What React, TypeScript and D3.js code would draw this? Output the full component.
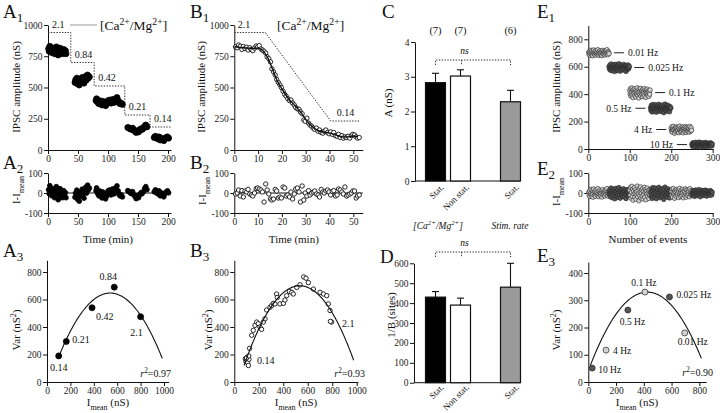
import React, { useEffect, useRef } from "react";
import * as d3 from "d3";

const FONT = "'Liberation Serif', 'Times New Roman', Times, serif";

// ---------- A: amplitude at five [Ca2+/Mg2+] ratios (stationary) ----------
const a1Ratio = ["2.1", "0.84", "0.42", "0.21", "0.14"];
const a1Ca21 = [[1, 810], [2, 790], [3, 830], [5, 800], [6, 780], [8, 815], [9, 795], [11, 770], [12, 805], [14, 825], [15, 785], [17, 760], [18, 800], [20, 815], [21, 775], [23, 790], [24, 770], [26, 805], [27, 780], [29, 795], [30, 770]];
const a1Ca084 = [[45, 540], [46, 560], [48, 575], [49, 530], [51, 550], [52, 520], [54, 565], [55, 545], [57, 580], [58, 555], [60, 535], [61, 570], [63, 590], [64, 560], [66, 600], [67, 575], [69, 585]];
const a1Ca042 = [[80, 395], [81, 410], [83, 380], [85, 370], [86, 395], [88, 375], [90, 360], [91, 390], [93, 365], [95, 380], [96, 355], [98, 370], [100, 395], [101, 385], [103, 400], [105, 375], [106, 390], [108, 405], [110, 380], [112, 395], [113, 410], [115, 420], [117, 395], [118, 380], [120, 370], [122, 375], [124, 365]];
const a1Ca021 = [[133, 180], [135, 175], [137, 170], [139, 165], [141, 175], [143, 160], [145, 150], [147, 140], [149, 155], [151, 145], [153, 160], [155, 170], [157, 165], [159, 175], [161, 190], [163, 200], [165, 185]];
const a1Ca014 = [[177, 100], [179, 110], [181, 95], [183, 90], [185, 105], [187, 80], [189, 95], [191, 85], [193, 75], [195, 90], [197, 100], [199, 105], [201, 95]];
const a1Clusters = [a1Ca21, a1Ca084, a1Ca042, a1Ca021, a1Ca014];
// perfusion protocol (dotted trace)
const a1StepFrom = [0, 38, 77, 128, 170];
const a1StepTo = [38, 77, 128, 170, 206];
const a1StepLevel = [940, 700, 512, 280, 184];

const a3Imean = [100, 165, 385, 575, 800];
const a3Var = [190, 295, 540, 690, 475];
const a3Label = ["0.14", "0.21", "0.42", "0.84", "2.1"];
const a3Fit = { peakI: 540, peakVar: 647, k: 0.0024, from: 95, to: 985, r2: "0.97" };

// ---------- B: non-stationary wash ----------
const b1Time = [0.5, 1.2, 1.8, 2.5, 3.2, 3.8, 4.5, 5.2, 5.8, 6.5, 7.2, 7.8, 8.5, 9.2, 9.8, 10.5, 11.2, 11.8, 12.5, 13.2, 13.8, 14.5, 15.2, 15.8, 16.5, 17.2, 17.8, 18.5, 19.2, 19.8, 20.5, 21.2, 21.8, 22.5, 23.2, 23.8, 24.5, 25.2, 25.8, 26.5, 27.2, 27.8, 28.5, 29.2, 29.8, 30.5, 31.2, 31.8, 32.5, 33.2, 33.8, 34.5, 35.2, 35.8, 36.5, 37.2, 37.8, 38.5, 39.2, 39.8, 40.5, 41.2, 41.8, 42.5, 43.2, 43.8, 44.5, 45.2, 45.8, 46.5, 47.2, 47.8, 48.5, 49.2, 49.8, 50.5, 51.2, 51.8, 52.5];
const b1Amp = [825, 818, 840, 830, 805, 828, 812, 822, 800, 818, 803, 795, 815, 832, 825, 835, 808, 800, 790, 775, 745, 730, 705, 650, 625, 600, 565, 540, 520, 500, 470, 445, 430, 410, 395, 400, 375, 360, 340, 330, 325, 305, 290, 240, 230, 255, 215, 200, 190, 175, 165, 175, 150, 160, 140, 135, 150, 160, 140, 130, 145, 125, 140, 115, 110, 125, 100, 115, 95, 105, 100, 110, 95, 115, 125, 120, 105, 95, 100];
const b1TrendTime = [0, 4, 8, 10, 12, 14, 16, 18, 20, 22, 24, 26, 28, 30, 32, 34, 36, 38, 40, 42, 44, 46, 48, 50, 52];
const b1TrendAmp = [825, 818, 812, 815, 795, 740, 650, 555, 490, 430, 385, 345, 300, 245, 200, 170, 150, 142, 135, 125, 112, 105, 105, 112, 105];
const b1StepTime = [0, 13, 40.5, 53];
const b1StepLevel = [940, 940, 232, 232];
const b2Resid = [-5, 0, 15, -15, 12, -20, 10, 5, 18, -5, -10, -15, 0, 22, 25, 20, 15, 5, -45, 45, 15, -5, -30, -35, -30, 18, 10, -25, -20, -25, 30, 25, -15, -10, -20, 5, -30, -5, 20, 25, 5, -45, 35, -35, 0, -15, 12, -10, 0, 5, 10, -5, -10, -20, 18, 5, 0, 10, 15, 5, -10, 8, 12, -15, -10, 20, 15, 5, -5, 30, -15, -10, -5, 0, 10, 10, -25, -15, -10];
const b3Imean = [90, 95, 100, 105, 110, 115, 120, 125, 100, 118, 142, 155, 169, 183, 196, 210, 223, 237, 251, 264, 292, 305, 319, 332, 346, 351, 373, 401, 414, 428, 450, 469, 482, 510, 537, 567, 586, 605, 646, 700, 728, 755, 768, 782, 795, 785];
const b3Var = [170, 150, 160, 180, 140, 120, 165, 245, 175, 190, 340, 376, 412, 436, 424, 400, 383, 436, 460, 524, 544, 556, 572, 568, 640, 615, 568, 572, 596, 628, 659, 652, 640, 688, 707, 764, 755, 723, 676, 652, 640, 628, 568, 520, 436, 441];
const b3Fit = { peakI: 535, peakVar: 700, k: 0.0028, from: 80, to: 975, r2: "0.93" };

// ---------- C / D: summary bars ----------
const cdKeys = ["ca-stat", "ca-nonstat", "gap", "rate-stat"];
const cdBarKey = ["ca-stat", "ca-nonstat", "rate-stat"];
const cdLabel = ["Stat.", "Non stat.", "Stat."];
const cdN = ["(7)", "(7)", "(6)"];
const cMean = [2.83, 3.02, 2.28];
const cSem = [0.27, 0.18, 0.33];
const dMean = [430, 390, 480];
const dSem = [28, 35, 120];
const cdFill = ["#000", "#fff", "#9a9a9a"];

// ---------- E: stimulation rate ----------
const e1Rate = ["0.01 Hz", "0.025 Hz", "0.1 Hz", "0.5 Hz", "4 Hz", "10 Hz"];
const e1FirstEvent = [1, 50, 100, 150, 200, 250];
const e1Amp001 = [705, 690, 712, 684, 698, 720, 703, 688, 715, 695, 680, 708, 722, 700, 690, 711, 685, 702, 718, 696, 706, 689, 724, 700, 683, 710, 694, 716, 702, 688, 699, 713, 681, 705, 719, 692, 707, 697, 712, 686, 701, 716, 693, 708, 724, 699, 687, 710, 703, 695];
const e1Amp0025 = [600, 585, 612, 575, 595, 620, 588, 603, 570, 608, 593, 580, 615, 597, 565, 605, 590, 618, 578, 600, 586, 610, 572, 596, 622, 583, 604, 568, 598, 612, 590, 577, 607, 594, 581, 616, 599, 574, 602, 589, 611, 566, 595, 606, 580, 598, 613, 585, 592, 603];
const e1Amp01 = [425, 400, 440, 385, 415, 445, 395, 430, 375, 420, 405, 438, 390, 412, 428, 380, 418, 402, 446, 392, 423, 408, 372, 435, 398, 416, 442, 386, 410, 426, 396, 433, 381, 419, 404, 440, 389, 414, 429, 377, 421, 407, 436, 393, 411, 425, 384, 417, 400, 430];
const e1Amp05 = [300, 280, 318, 290, 270, 308, 325, 285, 296, 312, 275, 302, 322, 288, 268, 306, 295, 317, 282, 298, 326, 287, 310, 273, 300, 315, 291, 278, 305, 320, 284, 297, 265, 311, 293, 327, 281, 303, 289, 314, 276, 299, 319, 286, 307, 292, 272, 309, 296, 301];
const e1Amp4 = [150, 130, 162, 122, 145, 165, 135, 142, 115, 155, 147, 126, 160, 137, 152, 131, 141, 158, 119, 148, 166, 133, 144, 124, 156, 139, 128, 161, 143, 118, 153, 136, 149, 127, 163, 140, 121, 157, 134, 146, 129, 159, 138, 150, 123, 164, 142, 132, 154, 136];
const e1Amp10 = [35, 20, 45, 25, 32, 42, 15, 38, 27, 48, 30, 18, 44, 33, 22, 40, 28, 50, 24, 36, 13, 41, 31, 26, 46, 34, 19, 39, 29, 43, 21, 37, 47, 23, 32, 16, 44, 35, 28, 41, 25, 38, 30, 20, 45, 33, 27, 40, 22, 36];
const e1Amps = [e1Amp001, e1Amp0025, e1Amp01, e1Amp05, e1Amp4, e1Amp10];
const e1Fill = ["#d2d2d2", "#555", "#d2d2d2", "#555", "#d2d2d2", "#555"];

const e3Rate = ["10 Hz", "4 Hz", "0.5 Hz", "0.1 Hz", "0.025 Hz", "0.01 Hz"];
const e3Imean = [28, 128, 285, 408, 585, 695];
const e3Var = [51, 117, 264, 330, 312, 180];
const e3Fill = ["#555", "#d2d2d2", "#555", "#d2d2d2", "#555", "#d2d2d2"];
const e3Fit = { peakI: 425, peakVar: 330, k: 0.0016, from: 15, to: 815, r2: "0.90" };

type Part = { t: string; k?: "sub" | "sup"; it?: boolean };
const caMg: Part[] = [{ t: "[Ca" }, { t: "2+", k: "sup" }, { t: "/Mg" }, { t: "2+", k: "sup" }, { t: "]" }];
const iMeanNs: Part[] = [{ t: "I" }, { t: "mean", k: "sub" }, { t: " (nS)" }];
const iMinus: Part[] = [{ t: "I-I" }, { t: "mean", k: "sub" }];
const varNs: Part[] = [{ t: "Var (nS" }, { t: "2", k: "sup" }, { t: ")" }];
const r2 = (v: string): Part[] => [{ t: "r", it: true }, { t: "2", k: "sup" }, { t: "=" + v }];

function ext(s: any, lo: number, hi: number) {
  return s.copy().domain([lo, hi]).range([s(lo), s(hi)]);
}

function axis(svg: any, side: string, scale: any, at: number, ticks: number[]) {
  const a = (side === "left" ? d3.axisLeft(scale) : d3.axisBottom(scale))
    .tickValues(ticks)
    .tickSizeInner(4)
    .tickSizeOuter(0)
    .tickPadding(1.5)
    .tickFormat((d: any) => String(d));
  const g = svg
    .append("g")
    .attr("transform", side === "left" ? `translate(${at},0)` : `translate(0,${at})`)
    .call(a);
  g.attr("font-family", FONT).attr("font-size", 9.5);
  g.selectAll("path,line").attr("stroke", "#111");
  g.selectAll("text").attr("fill", "#222");
  return g;
}

function text(svg: any, x: number, y: number, parts: Part[] | string, o: any = {}) {
  const size = o.size ?? 10;
  const t = svg
    .append("text")
    .attr("transform", o.rotate ? `translate(${x},${y}) rotate(${o.rotate})` : `translate(${x},${y})`)
    .attr("font-family", FONT)
    .attr("font-size", size)
    .attr("text-anchor", o.anchor ?? "start")
    .attr("fill", "#111");
  if (o.italic) t.attr("font-style", "italic");
  const list: Part[] = typeof parts === "string" ? [{ t: parts }] : parts;
  let shift = 0;
  list.forEach((p) => {
    const target = p.k === "sub" ? size * 0.32 : p.k === "sup" ? -size * 0.4 : 0;
    const ts = t.append("tspan").attr("dy", target - shift).text(p.t);
    if (p.k) ts.attr("font-size", size * 0.72);
    if (p.it) ts.attr("font-style", "italic");
    shift = target;
  });
  return t;
}

function dot(svg: any, x: number, y: number, r: number, fill: string, stroke = "#000", sw = 0.8) {
  svg.append("circle").attr("cx", x).attr("cy", y).attr("r", r).attr("fill", fill).attr("stroke", stroke).attr("stroke-width", sw);
}

function dotted(svg: any, pts: [number, number][]) {
  svg.append("path").attr("d", d3.line()(pts)).attr("fill", "none").attr("stroke", "#333").attr("stroke-width", 1).attr("stroke-dasharray", "1.4,1.4");
}

function fitCurve(svg: any, x: any, y: any, f: any) {
  const pts = d3.range(f.from, f.to + 1, 5).map((i) => [x(i), y(f.peakVar - f.k * (i - f.peakI) ** 2)] as [number, number]);
  svg.append("path").attr("d", d3.line()(pts)).attr("fill", "none").attr("stroke", "#111").attr("stroke-width", 1.1);
}

function panel(svg: any, x: number, y: number, letter: string, sub?: string) {
  const t = svg.append("text").attr("x", x).attr("y", y).attr("font-family", FONT).attr("font-size", 19).attr("fill", "#111");
  t.append("tspan").text(letter);
  if (sub) t.append("tspan").attr("font-size", 13).attr("dy", 4).text(sub);
}

function drawA(svg: any) {
  const x = d3.scaleLinear().domain([0, 200]).range([48, 168]);
  const y = d3.scaleLinear().domain([0, 1000]).range([150, 25]);
  axis(svg, "left", y, 48, [0, 250, 500, 750, 1000]);
  axis(svg, "bottom", ext(x, 0, 205), 150, [0, 50, 100, 150, 200]);
  const steps: [number, number][] = [];
  a1StepLevel.forEach((v, i) => steps.push([x(a1StepFrom[i]), y(v)], [x(a1StepTo[i]), y(v)]));
  dotted(svg, steps);
  a1Ratio.forEach((r, i) => text(svg, x(a1StepFrom[i]) + 4, y(a1StepLevel[i]) - 5, r, { size: 10 }));
  svg.append("line").attr("x1", 70).attr("x2", 97).attr("y1", 25).attr("y2", 25).attr("stroke", "#bbb").attr("stroke-width", 1.5);
  text(svg, 100, 30, caMg, { size: 13.5 });
  a1Clusters.forEach((c) => c.forEach(([t, v]) => dot(svg, x(t), y(v), 3, "#000")));
  text(svg, 20, 87, "IPSC amplitude (nS)", { size: 11, rotate: -90, anchor: "middle" });

  const y2 = d3.scaleLinear().domain([-100, 100]).range([213, 173]);
  axis(svg, "left", y2, 48, [-100, 0, 100]);
  axis(svg, "bottom", ext(x, 0, 205), 213, [0, 50, 100, 150, 200]);
  svg.append("line").attr("x1", x(0)).attr("x2", x(205)).attr("y1", y2(0)).attr("y2", y2(0)).attr("stroke", "#111");
  a1Clusters.forEach((c) => {
    const m = d3.mean(c, (d) => d[1]) as number;
    c.forEach(([t, v]) => dot(svg, x(t), y2(v - m), 2.4, "#000"));
  });
  text(svg, 20, 190, iMinus, { size: 11, rotate: -90, anchor: "middle" });
  text(svg, x(100), 243, "Time (min)", { size: 11, anchor: "middle" });

  const xi = d3.scaleLinear().domain([0, 1000]).range([47, 164]);
  const y3 = d3.scaleLinear().domain([0, 800]).range([382, 272]);
  axis(svg, "left", ext(y3, 0, 885), 47, [0, 200, 400, 600, 800]);
  axis(svg, "bottom", ext(xi, 0, 1040), 382, [0, 200, 400, 600, 800, 1000]);
  fitCurve(svg, xi, y3, a3Fit);
  a3Imean.forEach((m, i) => dot(svg, xi(m), y3(a3Var[i]), 3, "#000"));
  const off = [[0, 15, "middle"], [6, 2, "start"], [4, 12, "start"], [-6, -7, "middle"], [-4, 19, "middle"]];
  a3Label.forEach((l, i) => text(svg, xi(a3Imean[i]) + (off[i][0] as number), y3(a3Var[i]) + (off[i][1] as number), l, { size: 10, anchor: off[i][2] }));
  text(svg, 171, 377, r2(a3Fit.r2), { size: 10, anchor: "end" });
  text(svg, 20, 330, varNs, { size: 11, rotate: -90, anchor: "middle" });
  text(svg, 108, 406, iMeanNs, { size: 11, anchor: "middle" });
}

function drawB(svg: any) {
  const x = d3.scaleLinear().domain([0, 50]).range([234.3, 353.3]);
  const y = d3.scaleLinear().domain([0, 1000]).range([150, 25]);
  axis(svg, "left", y, 234.3, [0, 250, 500, 750, 1000]);
  axis(svg, "bottom", ext(x, 0, 54), 150, [0, 10, 20, 30, 40, 50]);
  dotted(svg, b1StepTime.map((t, i) => [x(t), y(b1StepLevel[i])] as [number, number]));
  text(svg, x(1.5), y(b1StepLevel[0]) - 5, "2.1", { size: 10 });
  text(svg, x(43), y(b1StepLevel[3]) - 5, "0.14", { size: 10 });
  text(svg, 277, 30, caMg, { size: 13.5 });
  b1Time.forEach((t, i) => dot(svg, x(t), y(b1Amp[i]), 2.2, "#fff", "#111", 0.9));
  const trend = d3.line().curve(d3.curveMonotoneX)(b1TrendTime.map((t, i) => [x(t), y(b1TrendAmp[i])] as [number, number]));
  svg.append("path").attr("d", trend).attr("fill", "none").attr("stroke", "#111").attr("stroke-width", 1.4);
  text(svg, 205, 87, "IPSC amplitude (nS)", { size: 11, rotate: -90, anchor: "middle" });

  const y2 = d3.scaleLinear().domain([-100, 100]).range([213, 173]);
  axis(svg, "left", y2, 234.3, [-100, 0, 100]);
  axis(svg, "bottom", ext(x, 0, 54), 213, [0, 10, 20, 30, 40, 50]);
  svg.append("line").attr("x1", x(0)).attr("x2", x(54)).attr("y1", y2(0)).attr("y2", y2(0)).attr("stroke", "#111");
  b1Time.forEach((t, i) => dot(svg, x(t), y2(b2Resid[i] ?? 0), 2.2, "#fff", "#111", 0.9));
  text(svg, 206, 191, iMinus, { size: 11, rotate: -90, anchor: "middle" });
  text(svg, x(25), 243, "Time (min)", { size: 11, anchor: "middle" });

  const xi = d3.scaleLinear().domain([0, 1000]).range([234.3, 356.7]);
  const y3 = d3.scaleLinear().domain([0, 800]).range([382, 272]);
  axis(svg, "left", ext(y3, 0, 885), 234.3, [0, 200, 400, 600, 800]);
  axis(svg, "bottom", ext(xi, 0, 1010), 382, [0, 200, 400, 600, 800, 1000]);
  b3Imean.forEach((m, i) => dot(svg, xi(m), y3(b3Var[i]), 2.2, "#fff", "#111", 0.9));
  fitCurve(svg, xi, y3, b3Fit);
  text(svg, 257, 364, "0.14", { size: 10 });
  text(svg, 342, 327, "2.1", { size: 10 });
  text(svg, 365, 377, r2(b3Fit.r2), { size: 10, anchor: "end" });
  text(svg, 212, 330, varNs, { size: 11, rotate: -90, anchor: "middle" });
  text(svg, 296, 406, iMeanNs, { size: 11, anchor: "middle" });
}

function bars(svg: any, y: any, axisX: number, ticks: number[], mean: number[], sem: number[], labelY: number, bracketY: number) {
  const band = d3.scaleBand().domain(cdKeys).range([423, 523]).paddingInner(0.2).paddingOuter(0.1);
  axis(svg, "left", y, axisX, ticks);
  const y0 = y(0);
  svg.append("line").attr("x1", axisX).attr("x2", 520).attr("y1", y0).attr("y2", y0).attr("stroke", "#111");
  cdBarKey.forEach((k, i) => {
    const bx = band(k) as number;
    const cx = bx + band.bandwidth() / 2;
    svg.append("line").attr("x1", cx).attr("x2", cx).attr("y1", y(mean[i])).attr("y2", y(mean[i] + sem[i])).attr("stroke", "#111").attr("stroke-width", 1.1);
    svg.append("line").attr("x1", cx - 3.5).attr("x2", cx + 3.5).attr("y1", y(mean[i] + sem[i])).attr("y2", y(mean[i] + sem[i])).attr("stroke", "#111").attr("stroke-width", 1.1);
    svg.append("rect").attr("x", bx).attr("y", y(mean[i])).attr("width", band.bandwidth()).attr("height", y0 - y(mean[i]))
      .attr("fill", cdFill[i]).attr("stroke", "#111").attr("stroke-width", 1.2);
    text(svg, cx + 9, labelY, cdLabel[i], { size: 9, rotate: -45, anchor: "end" });
  });
  const c0 = (band("ca-stat") as number) + band.bandwidth() / 2;
  const c1 = (band("ca-nonstat") as number) + band.bandwidth() / 2;
  const c3 = (band("rate-stat") as number) + band.bandwidth() / 2;
  dotted(svg, [[c0, bracketY + 5], [c0, bracketY], [c3, bracketY], [c3, bracketY + 5]]);
  dotted(svg, [[c1 + 1, bracketY], [c1 + 1, bracketY + 5]]);
  text(svg, c1 + 4, bracketY - 6, "ns", { size: 9.5, anchor: "middle", italic: true });
  return { band, c0, c3 };
}

function drawCD(svg: any) {
  const yc = d3.scaleLinear().domain([0, 4]).range([181, 42]);
  const { band } = bars(svg, yc, 415, [0, 1, 2, 3, 4], cMean, cSem, 188, 60);
  cdBarKey.forEach((k, i) => text(svg, (band(k) as number) + band.bandwidth() / 2, 34, cdN[i], { size: 10.5, anchor: "middle" }));
  text(svg, 392, 103, "A (nS)", { size: 11, rotate: -90, anchor: "middle" });
  text(svg, 438, 229, caMg, { size: 9.5, anchor: "middle", italic: true });
  text(svg, 510, 229, "Stim. rate", { size: 9.5, anchor: "middle", italic: true });

  const yd = d3.scaleLinear().domain([0, 600]).range([382.7, 263.3]);
  bars(svg, yd, 414, [0, 100, 200, 300, 400, 500, 600], dMean, dSem, 388, 252);
  text(svg, 395, 315, "1/B (sites)", { size: 11, rotate: -90, anchor: "middle" });
}

function drawE(svg: any) {
  const x = d3.scaleLinear().domain([0, 300]).range([588.3, 712.7]);
  const y = d3.scaleLinear().domain([0, 800]).range([149, 39.3]);
  axis(svg, "left", ext(y, 0, 900), 588.3, [0, 200, 400, 600, 800]);
  axis(svg, "bottom", x, 149, [0, 100, 200, 300]);
  e1Amps.forEach((amps, c) => amps.forEach((a, i) => dot(svg, x(e1FirstEvent[c] + i), y(a), 2.3, e1Fill[c], "#222", 0.6)));
  e1Amps.forEach((amps, c) => {
    const m = d3.mean(amps) as number;
    const lo = x(e1FirstEvent[c]);
    const hi = x(e1FirstEvent[c] + amps.length - 1);
    const right = c < 3;
    const d0 = right ? hi + 5 : lo - 15;
    svg.append("line").attr("x1", d0).attr("x2", d0 + 10).attr("y1", y(m)).attr("y2", y(m)).attr("stroke", "#222").attr("stroke-width", 1);
    text(svg, right ? d0 + 14 : d0 - 4, y(m) + 3.5, e1Rate[c], { size: 9.5, anchor: right ? "start" : "end" });
  });
  text(svg, 560, 87, "IPSC amplitude (nS)", { size: 11, rotate: -90, anchor: "middle" });

  const y2 = d3.scaleLinear().domain([-100, 100]).range([213, 173]);
  axis(svg, "left", y2, 588.3, [-100, 0, 100]);
  axis(svg, "bottom", x, 213, [0, 100, 200, 300]);
  svg.append("line").attr("x1", x(0)).attr("x2", x(300)).attr("y1", y2(0)).attr("y2", y2(0)).attr("stroke", "#111");
  e1Amps.forEach((amps, c) => {
    const m = d3.mean(amps) as number;
    amps.forEach((a, i) => dot(svg, x(e1FirstEvent[c] + i), y2(a - m), 2.2, e1Fill[c], "#222", 0.6));
  });
  text(svg, 560, 192, iMinus, { size: 11, rotate: -90, anchor: "middle" });
  text(svg, 648, 243, "Number of events", { size: 11, anchor: "middle" });

  const xi = d3.scaleLinear().domain([0, 800]).range([588.3, 699.3]);
  const y3 = d3.scaleLinear().domain([0, 400]).range([382, 273]);
  axis(svg, "left", ext(y3, 0, 440), 588.3, [0, 100, 200, 300, 400]);
  axis(svg, "bottom", ext(xi, 0, 850), 382, [0, 200, 400, 600, 800]);
  fitCurve(svg, xi, y3, e3Fit);
  const off = [[6, 5, "start"], [7, 4, "start"], [-8, 15, "start"], [-1, -6, "middle"], [7, 1, "start"], [-7, 12, "start"]];
  e3Imean.forEach((m, i) => {
    dot(svg, xi(m), y3(e3Var[i]), 3, e3Fill[i], "#222", 0.7);
    text(svg, xi(m) + (off[i][0] as number), y3(e3Var[i]) + (off[i][1] as number), e3Rate[i], { size: 9.5, anchor: off[i][2] });
  });
  text(svg, 713, 376, r2(e3Fit.r2), { size: 10, anchor: "end" });
  text(svg, 560, 330, varNs, { size: 11, rotate: -90, anchor: "middle" });
  text(svg, 637, 406, iMeanNs, { size: 11, anchor: "middle" });
}

export default function App() {
  const ref = useRef<SVGSVGElement>(null);

  useEffect(() => {
    const svg = d3.select(ref.current);
    svg.selectAll("*").remove();
    drawA(svg);
    drawB(svg);
    drawCD(svg);
    drawE(svg);
    panel(svg, 3, 18, "A", "1");
    panel(svg, 3, 169, "A", "2");
    panel(svg, 3, 257, "A", "3");
    panel(svg, 190, 18, "B", "1");
    panel(svg, 190, 169, "B", "2");
    panel(svg, 190, 257, "B", "3");
    panel(svg, 382, 18, "C");
    panel(svg, 380, 263, "D");
    panel(svg, 537, 18, "E", "1");
    panel(svg, 537, 175, "E", "2");
    panel(svg, 537, 262, "E", "3");
  }, []);

  return (
    <svg
      ref={ref}
      width={720}
      height={413}
      style={{ position: "absolute", left: 0, top: 0, background: "#fff", display: "block" }}
    />
  );
}
